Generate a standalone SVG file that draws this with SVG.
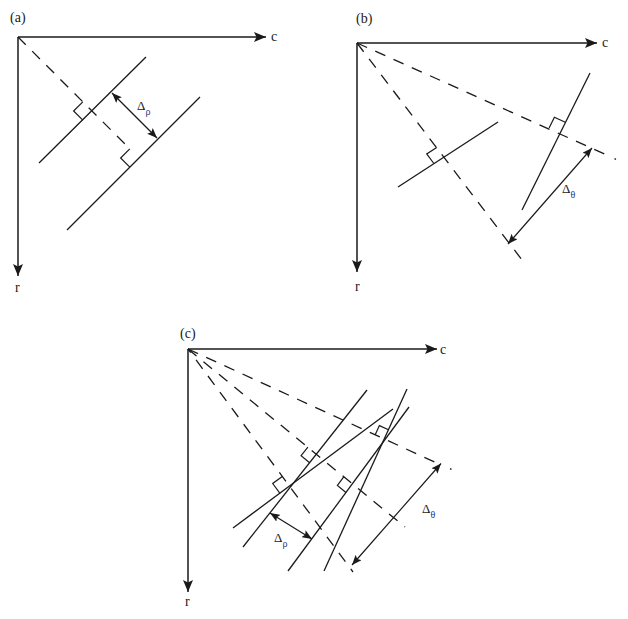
<svg xmlns="http://www.w3.org/2000/svg" width="628" height="619" viewBox="0 0 628 619">
<defs>
<marker id="ah" viewBox="0 0 12 10" refX="12" refY="5" markerWidth="12" markerHeight="10" orient="auto-start-reverse" markerUnits="userSpaceOnUse"><path d="M0,0 L12,5 L0,10 L2.5,5 Z" fill="#1a1a1a"/></marker>
<marker id="sh" viewBox="0 0 10 8" refX="10" refY="4" markerWidth="10" markerHeight="8" orient="auto-start-reverse" markerUnits="userSpaceOnUse"><path d="M0,0 L10,4 L0,8 L2,4 Z" fill="#1a1a1a"/></marker>
</defs>
<style>
.axis{stroke:#1a1a1a;stroke-width:1.5;fill:none;marker-end:url(#ah)}
.ray{stroke:#1a1a1a;stroke-width:1.3;fill:none;stroke-dasharray:11 9}
.ln{stroke:#1a1a1a;stroke-width:1.3;fill:none}
.ra{stroke:#1a1a1a;stroke-width:1.2;fill:none}
.dim{stroke:#1a1a1a;stroke-width:1.2;fill:none;marker-start:url(#sh);marker-end:url(#sh)}
.t{font-family:"Liberation Serif","Times New Roman",serif;font-size:14px;fill:#1a1a1a}
.d{font-family:"Liberation Serif","Times New Roman",serif;font-size:13px;fill:#1a1a1a}
.sub{font-size:10px;fill:#2b3080}
</style>
<rect width="628" height="619" fill="#ffffff"/>

<g id="panel-a">
  <text class="t" x="10" y="22">(a)</text>
  <g id="a-axes">
    <line class="axis" x1="18" y1="37" x2="266" y2="37"/>
    <line class="axis" x1="18" y1="37" x2="18" y2="276"/>
    <text class="t" x="271" y="41">c</text>
    <text class="t" x="15" y="292">r</text>
  </g>
  <g id="a-connectors">
    <path class="ray" d="M18,37 L129.8,148.8"/>
    <path class="ln" d="M39,163 L146,57"/>
    <path class="ln" d="M67,230 L200,97"/>
    <path class="ra" d="M82.8,101.8 L73.6,111 L82.8,120.2"/>
    <path class="ra" d="M129.8,148.8 L120.6,158 L129.8,167.2"/>
    <path class="dim" d="M112,93 L157,138"/>
  </g>
  <text class="d" x="137" y="110">Δ<tspan class="sub" dy="5">ρ</tspan></text>
</g>

<g id="panel-b">
  <text class="t" x="356" y="23">(b)</text>
  <g id="b-axes">
    <line class="axis" x1="357" y1="43" x2="597" y2="43"/>
    <line class="axis" x1="357" y1="43" x2="357" y2="272"/>
    <text class="t" x="602" y="47">c</text>
    <text class="t" x="355" y="291">r</text>
  </g>
  <g id="b-connectors">
    <path class="ray" d="M357,43 L522,260"/>
    <path class="ray" d="M357,43 L609,156"/>
    <path class="ln" d="M614.5,158.6 L616,159.3"/>
    <path class="ln" d="M398,187 L498,122"/>
    <path class="ln" d="M590,73 L522,210"/>
    <path class="ra" d="M436.7,147.4 L426.7,153.9 L433.9,163.5"/>
    <path class="ra" d="M549.1,128.1 L554.4,117.3 L565.3,122.2"/>
    <path class="dim" d="M592,148 L508,244"/>
  </g>
  <text class="d" x="562" y="193">Δ<tspan class="sub" dy="5">θ</tspan></text>
</g>

<g id="panel-c">
  <text class="t" x="180" y="338">(c)</text>
  <g id="c-axes">
    <line class="axis" x1="188" y1="349" x2="437" y2="349"/>
    <line class="axis" x1="188" y1="349" x2="188" y2="592"/>
    <text class="t" x="440" y="354">c</text>
    <text class="t" x="185" y="606">r</text>
  </g>
  <g id="c-connectors">
    <path class="ray" d="M188,349 L441,465"/>
    <path class="ln" d="M450,468.6 L451.5,469.3"/>
    <path class="ray" d="M188,349 L405,527"/>
    <path class="ray" d="M188,349 L353,572" stroke-dashoffset="6.4"/>
    <path class="ln" d="M243,547 L367,390"/>
    <path class="ln" d="M233,528 L393,409"/>
    <path class="ln" d="M409,407 L288,571"/>
    <path class="ln" d="M407,389 L324,571"/>
    <path class="ra" d="M282.3,476.4 L272.7,483.5 L279.8,493.2"/>
    <path class="ra" d="M307.9,447.1 L301.1,455.7 L309.6,462.7"/>
    <path class="ra" d="M343.9,476.7 L337.4,485.5 L345.9,492.5"/>
    <path class="ra" d="M375.2,434.7 L379.4,425.6 L388.5,429.8"/>
    <path class="dim" d="M270,513 L312,539"/>
    <path class="dim" d="M441,463.5 L352,565"/>
  </g>
  <text class="d" x="274" y="542">Δ<tspan class="sub" dy="5">ρ</tspan></text>
  <text class="d" x="422" y="513">Δ<tspan class="sub" dy="5">θ</tspan></text>
</g>
</svg>
